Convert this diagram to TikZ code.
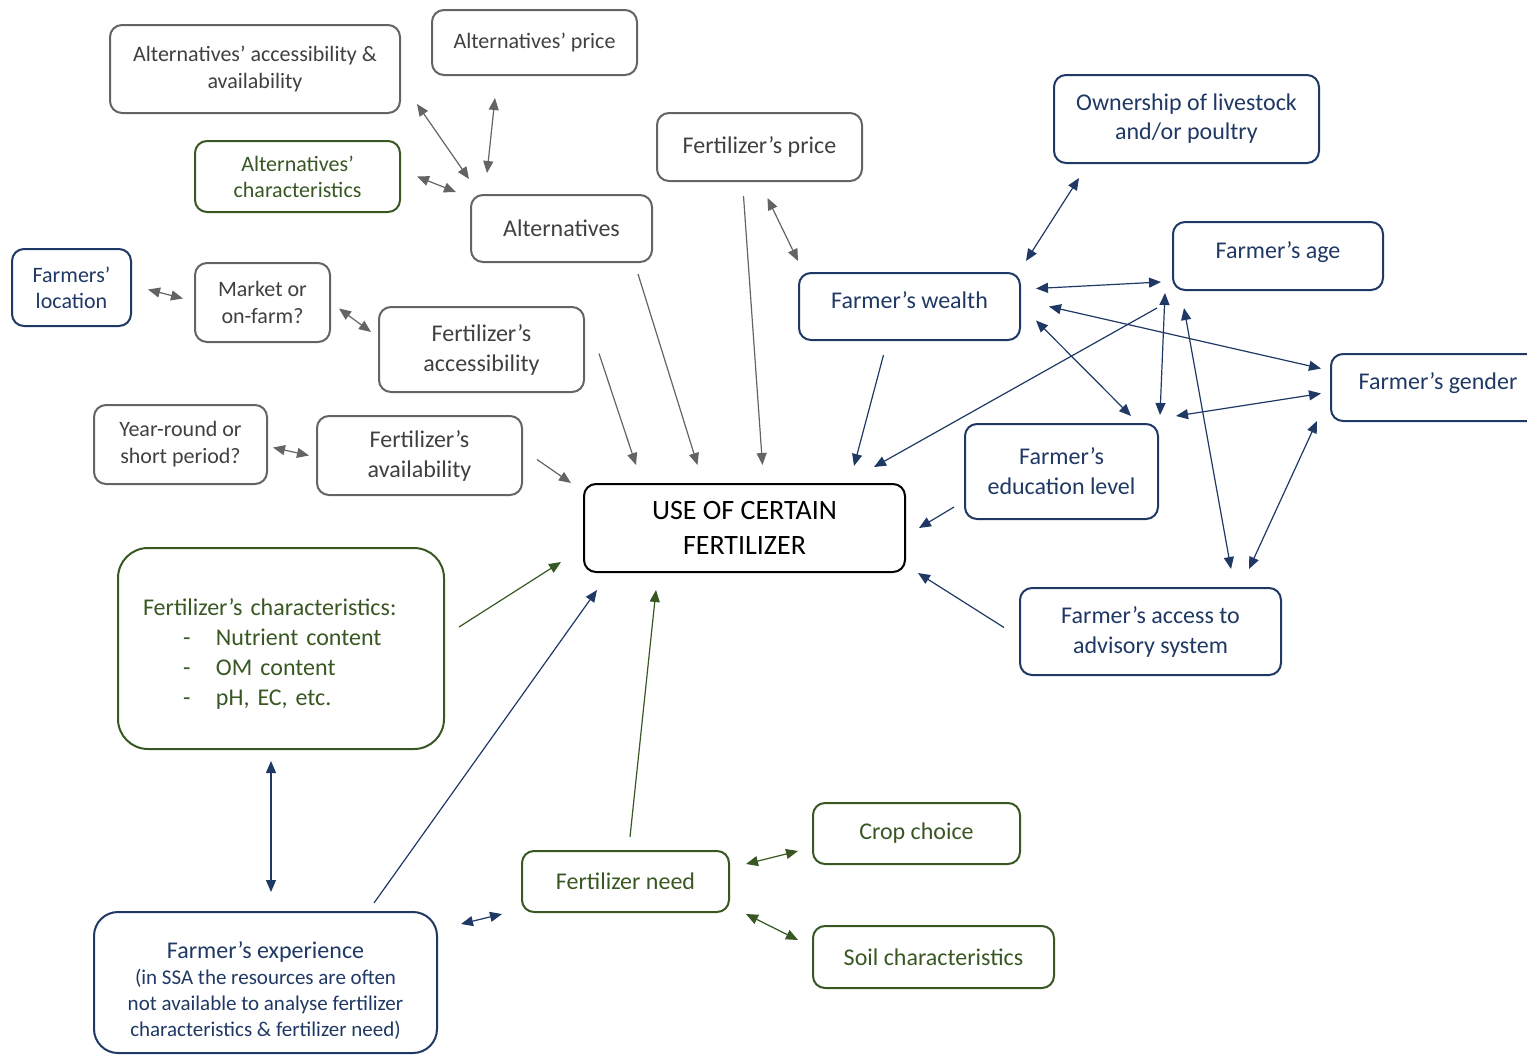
\documentclass[tikz,border=0pt]{standalone}
\usepackage{fontspec}
\setmainfont{Carlito}
\usetikzlibrary{arrows.meta}

\definecolor{greytext}{RGB}{64,64,64}
\definecolor{greyline}{RGB}{100,100,100}
\definecolor{navy}{RGB}{31,56,100}
\definecolor{leaf}{RGB}{56,87,35}

\newcommand{\smalltxt}{\fontsize{10.5}{13}\selectfont}

\tikzset{
  box/.style={draw, rounded corners=6pt, line width=1pt, align=center, inner sep=2pt},
  greybox/.style={box, draw=greyline, text=greytext, font=\fontsize{11}{13.5}\selectfont},
  bluebox/.style={box, draw=navy, text=navy, font=\fontsize{12}{14.5}\selectfont},
  greenbox/.style={box, draw=leaf, text=leaf, font=\fontsize{12}{15}\selectfont},
  usebox/.style={box, draw=black, text=black, font=\fontsize{14}{17.5}\selectfont},
  oneway/.style={line width=0.6pt, -{Triangle[length=6pt,width=5pt]}},
  twoway/.style={line width=0.6pt, {Triangle[length=6pt,width=5pt]}-{Triangle[length=6pt,width=5pt]}},
}

\begin{document}
\begin{tikzpicture}[x=0.5pt,y=-0.5pt]
\useasboundingbox (0,0) rectangle (1527,1055);

%Rounded Rect (grey)
\node[greybox, minimum width=145pt, minimum height=44pt] (altAcc) at (255,69) {Alternatives' accessibility \&\\availability};
\node[greybox, minimum width=102.5pt, minimum height=32.5pt] (altPrice) at (534.5,42.5) {Alternatives' price};
\node[greybox, minimum width=90.5pt, minimum height=33.5pt, font=\fontsize{12}{15}\selectfont] (alt) at (561.5,228.5) {Alternatives};
\node[greybox, minimum width=102.5pt, minimum height=34pt, font=\fontsize{12}{15}\selectfont] (fertPrice) at (759.5,147) {Fertilizer's price};
\node[greybox, minimum width=67.5pt, minimum height=39.5pt] (market) at (262.5,302.5) {Market or\\on-farm?};
\node[greybox, minimum width=102.5pt, minimum height=42.5pt, font=\fontsize{12}{15}\selectfont] (fertAcc) at (481.5,349.5) {Fertilizer's\\accessibility};
\node[greybox, minimum width=86.5pt, minimum height=39.5pt] (yearRound) at (180.5,444.5) {Year-round or\\short period?};
\node[greybox, minimum width=102.5pt, minimum height=39.5pt, font=\fontsize{12}{15}\selectfont] (fertAvail) at (419.5,455.5) {Fertilizer's\\availability};

%Rounded Rect (centre)
\node[usebox, minimum width=160.5pt, minimum height=44pt] (use) at (744.5,528) {USE OF CERTAIN\\FERTILIZER};

%Rounded Rect (green)
\node[greenbox, minimum width=102.5pt, minimum height=35.5pt, font=\fontsize{11}{13}\selectfont] (altChar) at (297.5,176.5) {Alternatives'\\characteristics};
\node[greenbox, rounded corners=15pt, minimum width=163pt, minimum height=100.5pt, text width=138pt, align=left] (fertChar) at (281,648.5) {\rule{0pt}{14pt}Fertilizer's characteristics:\\
  \hspace*{20pt}\makebox[16.5pt][l]{-}Nutrient content\\
  \hspace*{20pt}\makebox[16.5pt][l]{-}OM content\\
  \hspace*{20pt}\makebox[16.5pt][l]{-}pH, EC, etc.};
\node[greenbox, minimum width=103.5pt, minimum height=30.5pt] (fertNeed) at (625.5,881.5) {Fertilizer need};
\node[greenbox, minimum width=103.5pt, minimum height=30.5pt] (crop) at (916.5,833.5) {Crop choice};
\node[greenbox, minimum width=120.5pt, minimum height=31pt] (soil) at (933.5,957) {Soil characteristics};

%Rounded Rect (blue)
\node[bluebox, minimum width=59.5pt, minimum height=38.5pt, font=\fontsize{11}{13}\selectfont] (location) at (71.5,287.5) {Farmers'\\location};
\node[bluebox, minimum width=132.5pt, minimum height=44pt] (livestock) at (1186.5,119) {Ownership of livestock\\and/or poultry};
\node[bluebox, minimum width=105pt, minimum height=34pt] (age) at (1278,256) {Farmer's age\rule[-6pt]{0pt}{1pt}};
\node[bluebox, minimum width=110.5pt, minimum height=33.5pt] (wealth) at (909.5,306.5) {Farmer's wealth\rule[-6pt]{0pt}{1pt}};
\node[bluebox, minimum width=107pt, minimum height=33.5pt] (gender) at (1438,387.5) {Farmer's gender\rule[-6pt]{0pt}{1pt}};
\node[bluebox, minimum width=96.5pt, minimum height=47.5pt, font=\fontsize{12}{15}\selectfont] (education) at (1061.5,471.5) {Farmer's\\education level};
\node[bluebox, minimum width=130.5pt, minimum height=43.5pt, font=\fontsize{12}{15}\selectfont] (advisory) at (1150.5,631.5) {Farmer's access to\\advisory system};
\node[bluebox, rounded corners=12pt, minimum width=171.5pt, minimum height=70.5pt, font=\fontsize{12}{13}\selectfont] (experience) at (265.5,982.5) {\rule{0pt}{16pt}Farmer's experience\\
  \smalltxt(in SSA the resources are often\\
  \smalltxt not available to analyse fertilizer\\
  \smalltxt characteristics \& fertilizer need)};

%Straight Lines (grey)
\draw[greyline, twoway] ([shift={(16,-10)}]altAcc.south east) -- ([shift={(-1,-15)}]alt.north west);
\draw[greyline, twoway] ([shift={(64,22)}]altPrice.south west) -- ([shift={(17,-21)}]alt.north west);
\draw[greyline, twoway] ([shift={(16,0)}]altChar.east) -- ([shift={(-14,-2)}]alt.north west);
\draw[greyline, oneway] ([shift={(-15,11)}]alt.south east) -- ([shift={(-47,-18)}]use.north);
\draw[greyline, oneway] ([shift={(-16,14)}]fertPrice.south) -- ([shift={(18,-18)}]use.north);
\draw[greyline, twoway] ([shift={(8,16)}]fertPrice.south) -- ([shift={(0,-11)}]wealth.north west);
\draw[greyline, twoway] ([shift={(16,2)}]location.east) -- ([shift={(-11,-4)}]market.west);
\draw[greyline, twoway] ([shift={(8,6)}]market.east) -- ([shift={(-7,26)}]fertAcc.north west);
\draw[greyline, oneway] ([shift={(14,4)}]fertAcc.east) -- ([shift={(53,-18)}]use.north west);
\draw[greyline, twoway] ([shift={(5,3)}]yearRound.east) -- ([shift={(-7,0)}]fertAvail.west);
\draw[greyline, oneway] ([shift={(14,4)}]fertAvail.east) -- ([shift={(-12,0)}]use.north west);

%Straight Lines (blue)
\draw[navy, oneway] ([shift={(-26,14)}]wealth.south) -- ([shift={(-52,-17)}]use.north east);
\draw[navy, twoway] ([shift={(26,14)}]livestock.south west) -- ([shift={(5,-11)}]wealth.north east);
\draw[navy, twoway] ([shift={(15,-18)}]wealth.east) -- ([shift={(-11,26)}]age.west);
\draw[navy, twoway] ([shift={(28,0)}]wealth.east) -- ([shift={(-9,-19)}]gender.west);
\draw[navy, twoway] ([shift={(15,14)}]wealth.east) -- ([shift={(-28,-7)}]education.north east);
\draw[navy, oneway] ([shift={(-15,17)}]age.south west) -- ([shift={(-32,-16)}]use.north east);
\draw[navy, twoway] ([shift={(-7,2)}]age.south west) -- ([shift={(1,-8)}]education.north east);
\draw[navy, twoway] ([shift={(12,17)}]age.south west) -- ([shift={(-51,-18)}]advisory.north east);
\draw[navy, twoway] ([shift={(-9,6)}]gender.west) -- ([shift={(17,-7)}]education.north east);
\draw[navy, twoway] ([shift={(-13,-1)}]gender.south west) -- ([shift={(-33,-18)}]advisory.north east);
\draw[navy, oneway] ([shift={(-10,-13)}]education.south west) -- ([shift={(13,0)}]use.east);
\draw[navy, oneway] ([shift={(-15,-4)}]advisory.west) -- ([shift={(12,0)}]use.south east);
\draw[navy, oneway] ([shift={(-64,-8)}]experience.north east) -- ([shift={(14,17)}]use.south west);
\draw[navy, twoway] ([shift={(-10,11)}]fertChar.south) -- ([shift={(5.5,-19)}]experience.north);
\draw[navy, twoway] ([shift={(23,13)}]experience.north east) -- ([shift={(-19,1)}]fertNeed.south west);

%Straight Lines (green)
\draw[leaf, oneway] ([shift={(14,-21.5)}]fertChar.east) -- ([shift={(-22,-11)}]use.south west);
\draw[leaf, oneway] ([shift={(4.5,-13)}]fertNeed.north) -- ([shift={(73,17)}]use.south west);
\draw[leaf, twoway] ([shift={(16,-17.5)}]fertNeed.east) -- ([shift={(-14,17.5)}]crop.west);
\draw[leaf, twoway] ([shift={(16,32.5)}]fertNeed.east) -- ([shift={(-14,-17)}]soil.west);

\end{tikzpicture}
\end{document}
